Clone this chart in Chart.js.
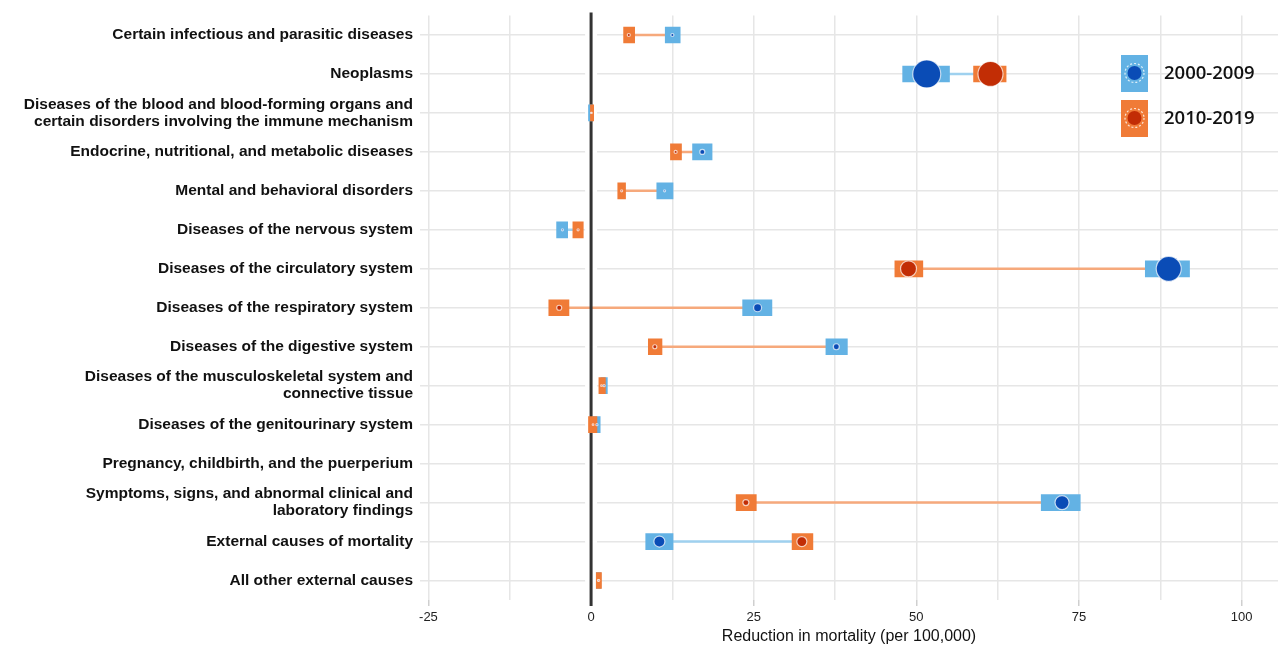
<!DOCTYPE html>
<html>
<head>
<meta charset="utf-8">
<script src="https://cdn.jsdelivr.net/npm/chart.js@4.4.1/dist/chart.umd.min.js"></script>
<style>
  html, body { margin: 0; padding: 0; background: #fff; }
</style>
</head>
<body>
<canvas id="chart" width="1282" height="653"></canvas>
<script>
// Categories (y axis), long ones split in two lines
var categories = [
  "Certain infectious and parasitic diseases",
  "Neoplasms",
  ["Diseases of the blood and blood-forming organs and", "certain disorders involving the immune mechanism"],
  "Endocrine, nutritional, and metabolic diseases",
  "Mental and behavioral disorders",
  "Diseases of the nervous system",
  "Diseases of the circulatory system",
  "Diseases of the respiratory system",
  "Diseases of the digestive system",
  ["Diseases of the musculoskeletal system and", "connective tissue"],
  "Diseases of the genitourinary system",
  "Pregnancy, childbirth, and the puerperium",
  ["Symptoms, signs, and abnormal clinical and", "laboratory findings"],
  "External causes of mortality",
  "All other external causes"
];

var seriesLabels = ["2000-2009", "2010-2019"];

// Point estimates (reduction in mortality per 100,000)
var value2000 = [12.5, 51.6, 0.0, 17.1, 11.3, -4.4, 88.8, 25.6, 37.7, 2.0, 0.9, null, 72.4, 10.5, 1.1];
var value2010 = [5.8, 61.4, 0.1, 13.0, 4.7, -2.0, 48.8, -4.9, 9.8, 1.6, 0.3, null, 23.8, 32.4, 1.2];

// Interval bounds
var low2000  = [11.4, 47.9, -0.4, 15.6, 10.1, -5.3, 85.2, 23.3, 36.1, 1.5, 0.35, null, 69.2, 8.4, 0.8];
var high2000 = [13.7, 55.1, 0.1, 18.6, 12.6, -3.6, 92.0, 27.8, 39.4, 2.5, 1.4, null, 75.2, 12.6, 1.5];
var low2010  = [5.0, 58.8, -0.1, 12.2, 4.1, -2.8, 46.7, -6.5, 8.8, 1.2, -0.4, null, 22.3, 30.9, 0.8];
var high2010 = [6.7, 63.8, 0.4, 13.9, 5.3, -1.2, 51.0, -3.4, 10.9, 2.2, 0.9, null, 25.4, 34.1, 1.6];

// Bubble size (radius) of the dots
var bubble2000 = [1.5, 14, 0.5, 2.5, 1, 1, 12.5, 4, 3, 1, 1, 0, 7, 5.5, 0.8];
var bubble2010 = [1.5, 12.5, 0.5, 1.5, 1, 1, 8, 2.5, 2, 0.8, 0.8, 0, 3, 5, 0.8];

var blueBox = "#63b2e4", orangeBox = "#f07b37";
var blueDot = "#0a4cb6", redDot = "#c22d05";
var blueLine = "#9fd1ef", orangeLine = "#f6a97c";

// Plain string keys for the category scale; the tick callback shows the split lines
var keys = categories.map(function (c) { return Array.isArray(c) ? c.join(" ") : c; });

var box2000 = [], box2010 = [], dots2000 = [], dots2010 = [], lineData = [];
for (var i = 0; i < keys.length; i++) {
  box2000.push(low2000[i] === null ? null : [low2000[i], high2000[i]]);
  box2010.push(low2010[i] === null ? null : [low2010[i], high2010[i]]);
  if (value2000[i] !== null) {
    dots2000.push({ x: value2000[i], y: keys[i], r: bubble2000[i] });
    dots2010.push({ x: value2010[i], y: keys[i], r: bubble2010[i] });
  }
  lineData.push({ x: value2000[i], y: keys[i] });
  lineData.push({ x: value2010[i], y: keys[i] });
  lineData.push({ x: null, y: keys[i] });
}

function segColor(ctx) {
  var row = Math.floor(ctx.p0DataIndex / 3);
  return value2010[row] < value2000[row] ? orangeLine : blueLine;
}

// Zero line with a white band, drawn over the connecting lines
var zeroLine = {
  id: "zeroLine",
  beforeDatasetsDraw: function (chart) {
    var c = chart.ctx, a = chart.chartArea;
    var x0 = chart.scales.x.getPixelForValue(0);
    c.save();
    c.fillStyle = "#fff";
    c.fillRect(x0 - 6, a.top, 12, a.bottom - a.top);
    c.restore();
  },
  afterDatasetDraw: function (chart, args) {
    if (args.meta.type !== "line") return;
    var c = chart.ctx, a = chart.chartArea;
    var x0 = chart.scales.x.getPixelForValue(0);
    c.save();
    c.strokeStyle = "#333";
    c.lineWidth = 3;
    c.beginPath();
    c.moveTo(x0, a.top - 3);
    c.lineTo(x0, a.bottom + 6);
    c.stroke();
    c.restore();
  }
};

// Legend drawn inside the plot, on the right
var keyLegend = {
  id: "keyLegend",
  afterDraw: function (chart) {
    var c = chart.ctx;
    var items = [
      { text: seriesLabels[0], box: blueBox, dot: blueDot, y: 73 },
      { text: seriesLabels[1], box: orangeBox, dot: redDot, y: 118 }
    ];
    c.save();
    items.forEach(function (it) {
      c.fillStyle = it.box;
      c.fillRect(1121, it.y - 18, 27, 37);
      c.beginPath();
      c.arc(1134.5, it.y, 7, 0, Math.PI * 2);
      c.fillStyle = it.dot;
      c.fill();
      c.setLineDash([2, 2]);
      c.strokeStyle = "rgba(255,255,255,0.8)";
      c.lineWidth = 1.2;
      c.beginPath();
      c.arc(1134.5, it.y, 9.5, 0, Math.PI * 2);
      c.stroke();
      c.setLineDash([]);
      c.fillStyle = "#111";
      c.font = "600 18.5px 'Open Sans', sans-serif";
      c.textBaseline = "middle";
      c.textAlign = "left";
      c.fillText(it.text, 1164, it.y + 1);
    });
    c.restore();
  }
};

var ctx = document.getElementById("chart").getContext("2d");

var chart = new Chart(ctx, {
  type: "bar",
  data: {
    labels: keys,
    datasets: [
      {
        type: "line",
        data: lineData,
        borderWidth: 2.5,
        pointRadius: 0,
        spanGaps: false,
        borderColor: blueLine,
        segment: { borderColor: segColor },
        order: 5
      },
      {
        type: "bar",
        label: seriesLabels[0],
        data: box2000,
        backgroundColor: blueBox,
        barThickness: 16,
        grouped: false,
        order: 4
      },
      {
        type: "bar",
        label: seriesLabels[1],
        data: box2010,
        backgroundColor: orangeBox,
        barThickness: 16,
        grouped: false,
        order: 3
      },
      {
        type: "bubble",
        data: dots2000,
        backgroundColor: blueDot,
        borderColor: "rgba(255,255,255,0.7)",
        borderWidth: 1.2,
        order: 1
      },
      {
        type: "bubble",
        data: dots2010,
        backgroundColor: redDot,
        borderColor: "rgba(255,255,255,0.7)",
        borderWidth: 1.2,
        order: 0
      }
    ]
  },
  options: {
    responsive: false,
    animation: false,
    indexAxis: "y",
    layout: { autoPadding: false, padding: { top: 13, right: 4, bottom: 0, left: 0 } },
    plugins: {
      legend: { display: false },
      tooltip: { enabled: false }
    },
    scales: {
      x: {
        type: "linear",
        min: -26.3,
        max: 105.6,
        border: { display: false },
        ticks: {
          stepSize: 12.5,
          includeBounds: false,
          autoSkip: false,
          maxRotation: 0,
          padding: 4,
          color: "#222",
          font: { family: "'Liberation Sans', Arial, sans-serif", size: 13 },
          callback: function (v) { return v % 25 === 0 ? v : ""; }
        },
        grid: {
          color: "#e6e6e6",
          lineWidth: 1.5,
          tickLength: 6,
          tickColor: function (c) {
            if (c.tick.value === 0) return "#333";
            return c.tick.value % 25 === 0 ? "#cfcfcf" : "rgba(0,0,0,0)";
          }
        },
        title: {
          display: true,
          text: "Reduction in mortality (per 100,000)",
          color: "#111",
          font: { family: "'Liberation Sans', Arial, sans-serif", size: 16 },
          padding: { top: 0, bottom: 7 }
        },
        afterFit: function (scale) { scale.height = 53; }
      },
      y: {
        type: "category",
        labels: keys,
        border: { display: false },
        grid: { color: "#e6e6e6", lineWidth: 1.5, offset: false, drawTicks: false },
        ticks: {
          padding: 7,
          color: "#111",
          font: { family: "'Liberation Sans', Arial, sans-serif", size: 15.5, weight: "bold", lineHeight: 1.1 },
          callback: function (v, idx) { return categories[idx]; }
        },
        afterFit: function (scale) { scale.width = 420; }
      }
    }
  },
  plugins: [zeroLine, keyLegend]
});
</script>
</body>
</html>
